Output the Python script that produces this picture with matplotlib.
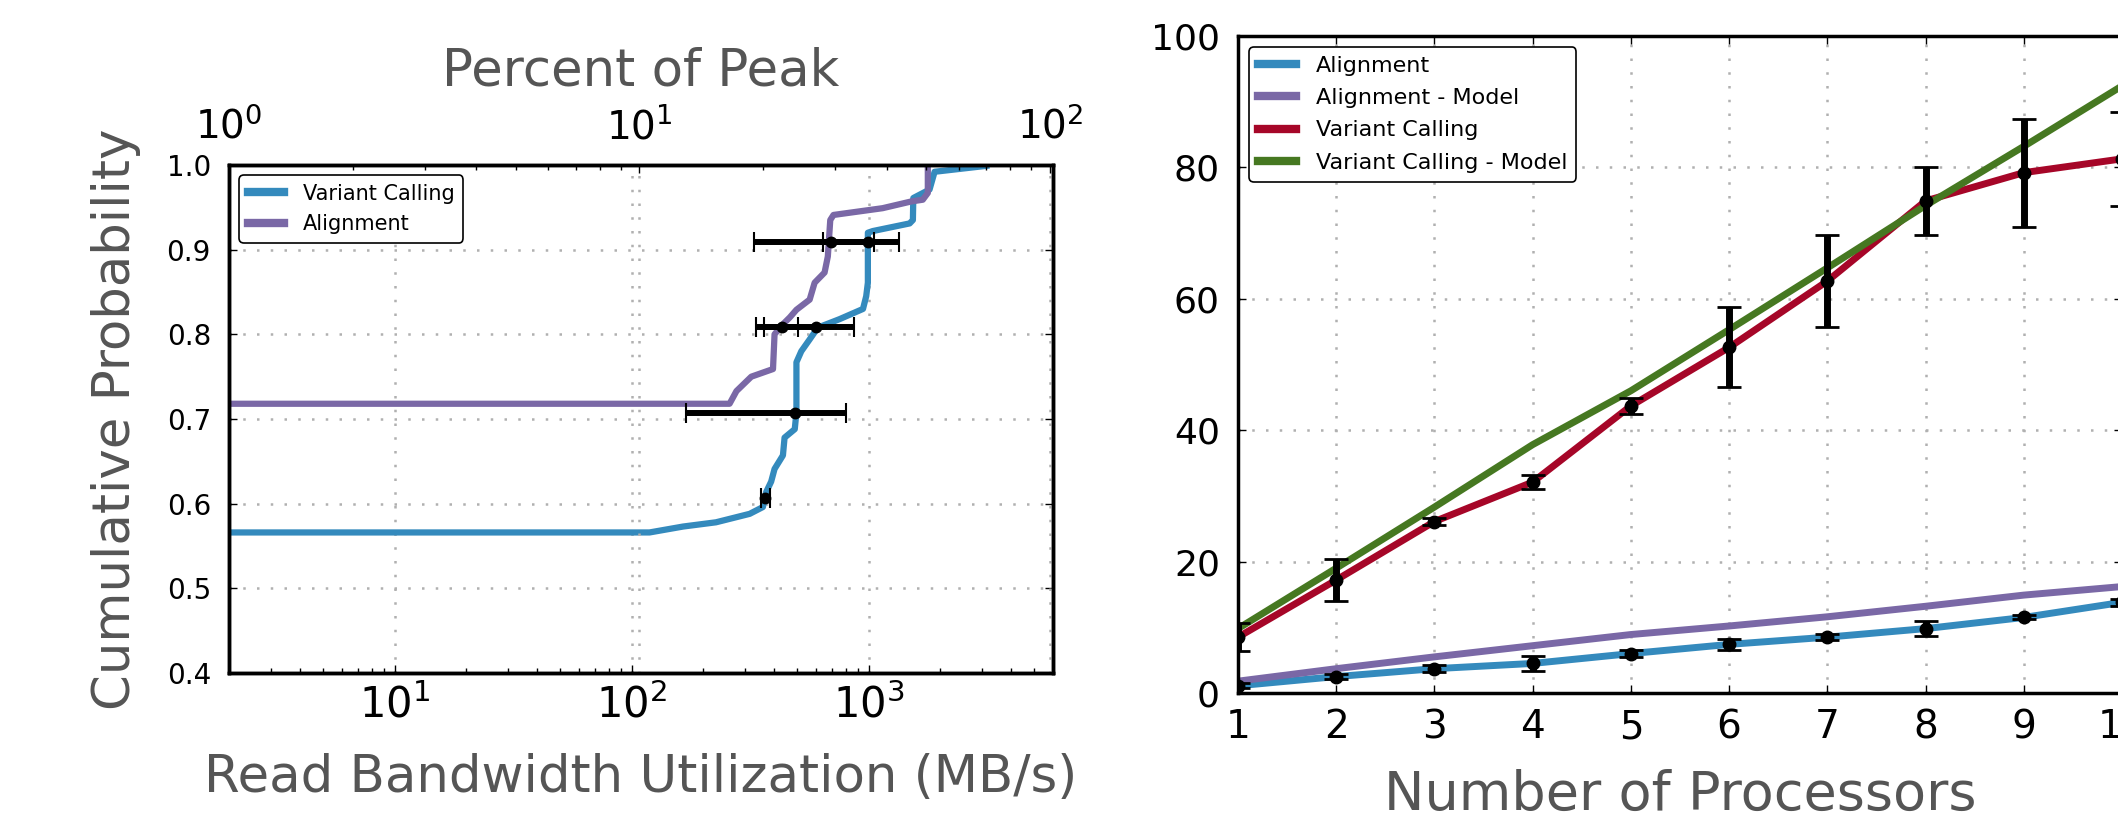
import matplotlib
matplotlib.use('Agg')
import matplotlib.pyplot as plt

plt.rcParams['font.family'] = ['DejaVu Sans']

# ---------------- left panel data (CDF of read bandwidth) ----------------
vc_bw = [1, 119, 165, 227, 315, 358, 370, 388, 401, 435, 442, 488, 496, 496,
         520, 564, 611, 755, 947, 977, 993, 993, 1042, 1490, 1538, 1544, 1808,
         1899, 3140]
vc_cdf = [0.566, 0.566, 0.573, 0.578, 0.588, 0.596, 0.614, 0.626, 0.641, 0.657,
          0.678, 0.688, 0.708, 0.767, 0.780, 0.794, 0.808, 0.818, 0.830, 0.845,
          0.861, 0.920, 0.922, 0.931, 0.935, 0.961, 0.971, 0.992, 0.999]
al_bw = [1, 259, 277, 320, 395, 401, 428, 465, 496, 564, 592, 652, 673, 689,
         711, 1146, 1517, 1693, 1778, 1778]
al_cdf = [0.718, 0.718, 0.733, 0.750, 0.759, 0.800, 0.810, 0.820, 0.829, 0.841,
          0.861, 0.873, 0.892, 0.935, 0.941, 0.949, 0.957, 0.959, 0.967, 1.0]
err_bw = [367, 488, 432, 602, 692, 993]
err_bw_sd = [15, 318, 71, 268, 362, 350]
err_cdf = [0.607, 0.707, 0.809, 0.809, 0.909, 0.909]
left_yticks = [0.4, 0.5, 0.6, 0.7, 0.8, 0.9, 1.0]

# ---------------- right panel data (speedup) ----------------
procs = [1, 2, 3, 4, 5, 6, 7, 8, 9, 10]
align = [1.1, 2.5, 3.7, 4.5, 6.0, 7.4, 8.5, 9.8, 11.5, 13.8]
align_err = [0.4, 0.4, 0.5, 1.2, 0.5, 0.8, 0.5, 1.2, 0.3, 0.5]
align_model = [1.8, 3.7, 5.5, 7.2, 8.9, 10.2, 11.6, 13.2, 14.9, 16.2]
vc = [8.5, 17.2, 26.1, 32.1, 43.7, 52.6, 62.7, 74.9, 79.2, 81.3]
vc_err = [2.1, 3.2, 0.5, 1.1, 1.2, 6.1, 7.0, 5.2, 8.2, 7.2]
vc_model = [9.8, 19.0, 28.3, 37.8, 46.0, 55.3, 64.7, 74.2, 83.2, 92.4]
right_yticks = [0, 20, 40, 60, 80, 100]

BLUE = '#348ABD'
PURPLE = '#7A68A6'
RED = '#A60628'
GREEN = '#467821'
LABEL_GRAY = '#555555'
GRID_KW = dict(color='#b0b0b0', linewidth=1.8, linestyle=(0, (1, 4.5)))

W, H = 2118, 816
fig = plt.figure(figsize=(W / 100, H / 100), dpi=100)


def px_axes(l, t, r, b):
    return fig.add_axes([l / W, 1 - b / H, (r - l) / W, (b - t) / H])


def style_spines(ax):
    for s in ax.spines.values():
        s.set_linewidth(2.5)
        s.set_color('black')


# ======================= left panel =======================
ax1 = px_axes(229, 165, 1053, 673)
ax1.plot(vc_bw, vc_cdf, color=BLUE, lw=4.5, label='Variant Calling')
ax1.plot(al_bw, al_cdf, color=PURPLE, lw=4.5, label='Alignment')
ax1.errorbar(err_bw, err_cdf, xerr=err_bw_sd, fmt='o', color='black', ms=7.5,
             elinewidth=4.3, capsize=7.2, capthick=1.5, zorder=5)
ax1.set_xscale('log')
ax1.set_xlim(2, 6000)
ax1.set_ylim(0.4, 1.0)
ax1.set_yticks(left_yticks)
ax1.grid(True, **GRID_KW)
ax1.tick_params(axis='y', which='both', direction='in', left=True, right=True,
                labelsize=20, pad=13, length=6, width=1)
ax1.tick_params(axis='x', which='major', direction='in', labelsize=30, pad=8,
                length=6, width=1)
ax1.tick_params(axis='x', which='minor', direction='in', length=3.5, width=1)
style_spines(ax1)
ax1.set_xlabel('Read Bandwidth Utilization (MB/s)', fontsize=37,
               color=LABEL_GRAY, va='baseline')
ax1.xaxis.set_label_coords(0.5, (673 - 792) / 508)
ax1.set_ylabel('Cumulative Probability', fontsize=37, color=LABEL_GRAY,
               va='baseline')
ax1.yaxis.set_label_coords((130 - 229) / 824, 0.5)
leg1 = ax1.legend(loc='upper left', fontsize=15, handlelength=1.75,
                  handletextpad=0.9, labelspacing=0.5, fancybox=True,
                  borderaxespad=0.5)
leg1.get_frame().set_edgecolor('black')
leg1.get_frame().set_linewidth(1.2)
leg1.get_frame().set_alpha(1)
for ln in leg1.get_lines():
    ln.set_linewidth(6)

ax2 = ax1.twiny()
ax2.set_xscale('log')
ax2.set_xlim(1, 101.7)
ax2.xaxis.grid(True, **GRID_KW)
ax2.tick_params(axis='x', which='major', direction='in', labelsize=28, pad=13,
                length=6, width=1)
ax2.tick_params(axis='x', which='minor', direction='in', length=3.5, width=1)
style_spines(ax2)
ax2.set_xlabel('Percent of Peak', fontsize=37, color=LABEL_GRAY, va='baseline')
ax2.xaxis.set_label_coords(0.5, (673 - 86) / 508)

# ======================= right panel =======================
ax3 = px_axes(1238, 36, 2122, 693)
ax3.plot(procs, align, color=BLUE, lw=5, label='Alignment')
ax3.plot(procs, align_model, color=PURPLE, lw=5, label='Alignment - Model')
ax3.plot(procs, vc, color=RED, lw=5, label='Variant Calling')
ax3.plot(procs, vc_model, color=GREEN, lw=5, label='Variant Calling - Model')
ax3.errorbar(procs, align, yerr=align_err, fmt='o', color='black', ms=9,
             elinewidth=5, capsize=8.3, capthick=2, zorder=5)
ax3.errorbar(procs, vc, yerr=vc_err, fmt='o', color='black', ms=9,
             elinewidth=5, capsize=8.3, capthick=2, zorder=5)
ax3.set_xlim(1, 10)
ax3.set_ylim(0, 100)
ax3.set_xticks(procs)
ax3.set_yticks(right_yticks)
ax3.grid(True, **GRID_KW)
ax3.tick_params(axis='both', which='both', direction='in', top=True,
                right=True, length=6, width=1)
ax3.tick_params(axis='x', labelsize=28, pad=11)
ax3.tick_params(axis='y', labelsize=26, pad=13)
style_spines(ax3)
ax3.set_xlabel('Number of Processors', fontsize=39, color=LABEL_GRAY,
               va='baseline')
ax3.xaxis.set_label_coords(0.5, (693 - 810) / 657)
leg3 = ax3.legend(loc='upper left', fontsize=16, handlelength=1.7,
                  handletextpad=0.9, labelspacing=0.55, fancybox=True,
                  borderaxespad=0.5)
leg3.get_frame().set_edgecolor('black')
leg3.get_frame().set_linewidth(1.2)
leg3.get_frame().set_alpha(1)
for ln in leg3.get_lines():
    ln.set_linewidth(6)

fig.savefig('out.png', dpi=100)
